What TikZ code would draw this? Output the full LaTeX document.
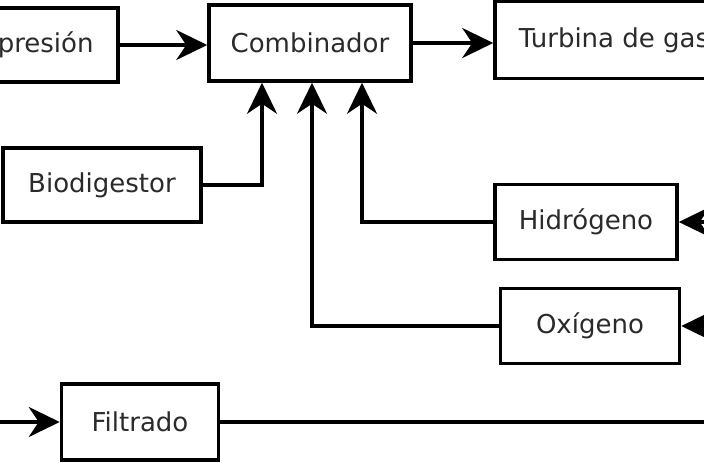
\documentclass[tikz,border=0pt]{standalone}
\usepackage{fontspec}
\setmainfont{DejaVu Sans}
\usetikzlibrary{arrows.meta,positioning}
\definecolor{ink}{HTML}{2A2A2A}
\tikzset{blk/.style={draw=black,line width=3.5pt,fill=white,text=ink,align=center,font=\fontsize{26}{30}\selectfont,inner sep=0pt},
arr/.style={-{Stealth[length=31pt,width=30pt,inset=10pt]},line width=3.5pt},
ln/.style={line width=3.5pt}}
\begin{document}
\begin{tikzpicture}[x=1pt,y=-1pt]
\useasboundingbox (0,0) rectangle (704,469);
\clip (0,0) rectangle (704,469);
\node[blk,minimum width=194pt,minimum height=74pt](comp) at (21,45){\hspace*{-10pt}Compresión};
\node[blk,minimum width=202pt,minimum height=76pt](comb) at (310,43){Combinador};
\node[blk,minimum width=250pt,minimum height=77pt](turb) at (620,40){\hspace*{-12pt}Turbina de gas};
\node[blk,minimum width=198pt,minimum height=74pt](bio) at (102,185){Biodigestor};
\node[blk,minimum width=182pt,minimum height=75pt](hid) at (586,222){Hidrógeno};
\node[blk,minimum width=179pt,minimum height=75pt](oxi) at (590,326){Oxígeno};
\node[blk,minimum width=157pt,minimum height=76pt](fil) at (140,422){Filtrado};
\coordinate (hin) at (760,222);
\coordinate (oin) at (760,326);
\coordinate (fin) at (-40,422);
\coordinate (fout) at (760,422);
\draw[arr](comp.east)--(comp.east-|comb.west);
\draw[arr](comb.east)--(comb.east-|turb.west);
\draw[arr](bio.east)-|([xshift=-48pt]comb.south);
\draw[arr](oxi.west)-|([xshift=2pt]comb.south);
\draw[arr](hid.west)-|([xshift=52pt]comb.south);
\draw[arr](hin)--(hid.east);\draw[arr](oin)--(oxi.east);
\draw[arr](fin)--(fil.west);\draw[ln](fil.east)--(fout);
\end{tikzpicture}
\end{document}
